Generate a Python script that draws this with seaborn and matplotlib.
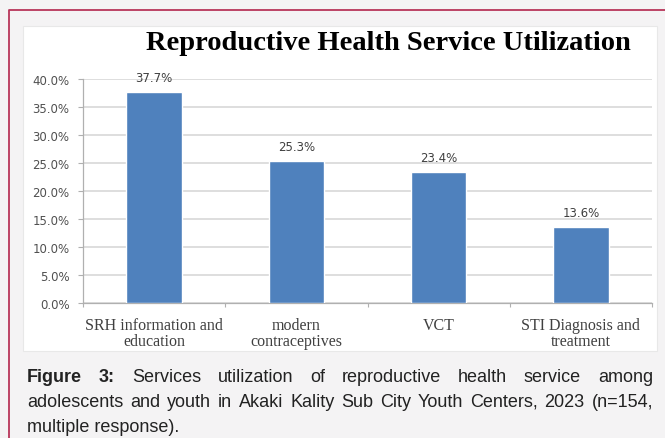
import numpy as np
import matplotlib
matplotlib.use("Agg")
import matplotlib.pyplot as plt
import seaborn as sns
from matplotlib.ticker import MultipleLocator, FixedLocator, FuncFormatter
from matplotlib.patches import Rectangle
from matplotlib.lines import Line2D

# data
categories = ["SRH information and\neducation", "modern\ncontraceptives",
              "VCT", "STI Diagnosis and\ntreatment"]
values = [37.7, 25.3, 23.4, 13.6]

title = "Reproductive Health Service Utilization"
caption_bold = ["Figure", "3:"]
caption_line1 = "Services utilization of reproductive health service among"
caption_line2 = "adolescents and youth in Akaki Kality Sub City Youth Centers, 2023 (n=154,"
caption_line3 = "multiple response)."

W, H = 665, 439
bar_color = "#4f81bd"
bg_color = "#f4f3f4"

sns.set_style("white")
plt.rcParams["font.family"] = ["DejaVu Sans"]

fig = plt.figure(figsize=(W / 100, H / 100), dpi=100, facecolor=bg_color)


def fx(px):
    return px / W


def fy(py):
    return 1 - py / H


# white panel holding the chart
fig.patches.append(Rectangle((fx(23), fy(352)), fx(657) - fx(23), fy(27) - fy(352),
                             transform=fig.transFigure, facecolor="white",
                             edgecolor="#e8e8e8", lw=0.8, zorder=-1))
# outer frame line
fig.lines.append(Line2D([fx(9), fx(9), fx(665)], [fy(439), fy(11), fy(11)],
                        transform=fig.transFigure, color="#b8355a", lw=1.3))

ax = fig.add_axes([fx(83), fy(304), fx(652) - fx(83), fy(80) - fy(304)])
ax.set_facecolor("none")

sns.barplot(x=categories, y=values, color=bar_color, width=0.39,
            saturation=1, ax=ax, zorder=3)

ax.set_ylim(0, 40)
ax.set_xlim(-0.5, len(categories) - 0.5)
ax.yaxis.set_major_locator(MultipleLocator(5))
ax.yaxis.set_major_formatter(FuncFormatter(lambda v, p: f"{v:.1f}%"))
ax.grid(axis="y", color="#d4d4d4", lw=1.1, zorder=0)
ax.set_axisbelow(True)

for s in ["top", "right"]:
    ax.spines[s].set_visible(False)
for s in ["left", "bottom"]:
    ax.spines[s].set_color("#b0b0b0")
    ax.spines[s].set_linewidth(0.9)

ax.tick_params(axis="y", length=3.6, width=0.8, color="#b0b0b0", pad=6,
               labelsize=8.5, labelcolor="#505050", left=True)
# category ticks sit between the bars
ax.xaxis.set_minor_locator(FixedLocator(np.arange(-0.5, len(categories), 1.0)))
ax.tick_params(axis="x", which="minor", length=3, width=0.8, color="#b0b0b0",
               bottom=True)
ax.tick_params(axis="x", which="major", length=0, pad=10)
for lab in ax.get_xticklabels():
    lab.set_fontfamily("Liberation Serif")
    lab.set_fontsize(11.5)
    lab.set_color("#404040")
    lab.set_linespacing(1.05)
    lab.set_verticalalignment("top")

ax.set_xlabel("")
ax.set_ylabel("")

for c in ax.containers:
    ax.bar_label(c, labels=[f"{v:.1f}%" for v in values], padding=6,
                 fontsize=8.5, color="#404040")

fig.text(fx(388), fy(50), title, ha="center", va="baseline",
         fontfamily="Liberation Serif", fontweight="bold", fontsize=20.5,
         color="black")

# justified caption
renderer = fig.canvas.get_renderer()
cap_left, cap_right = 27, 653
cap_size = 13.0


def justified_line(words, y_base, bold_count=0):
    texts = []
    for i, w in enumerate(words):
        t = fig.text(0, fy(y_base), w, ha="left", va="baseline",
                     fontfamily="Liberation Sans", fontsize=cap_size,
                     fontweight="bold" if i < bold_count else "normal",
                     color="#222222")
        texts.append(t)
    widths = [t.get_window_extent(renderer).width for t in texts]
    gap = (cap_right - cap_left - sum(widths)) / (len(words) - 1)
    x = cap_left
    for t, w in zip(texts, widths):
        t.set_x(fx(x))
        x += w + gap


justified_line(caption_bold + caption_line1.split(), 382, bold_count=2)
justified_line(caption_line2.split(), 407)
fig.text(fx(cap_left), fy(432), caption_line3, ha="left", va="baseline",
         fontfamily="Liberation Sans", fontsize=cap_size, color="#222222")

fig.savefig("out.png", dpi=100, facecolor=bg_color)
